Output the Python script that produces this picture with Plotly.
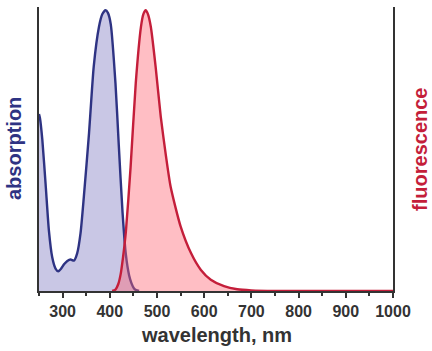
import plotly.graph_objects as go

abs_wl = [250, 252, 257, 264, 271, 278, 285, 291, 297, 303, 310, 317, 324, 331, 338, 345, 356, 366, 377, 384, 391, 396, 402, 412, 419, 427, 434, 441, 446, 451, 456, 462]
abs_val = [0.63, 0.616, 0.54, 0.38, 0.215, 0.12, 0.08, 0.07, 0.08, 0.095, 0.107, 0.112, 0.108, 0.135, 0.206, 0.335, 0.562, 0.80, 0.94, 0.985, 1.0, 0.99, 0.95, 0.74, 0.52, 0.28, 0.13, 0.055, 0.027, 0.01, 0.003, 0.0]

fl_wl = [405, 412, 418, 423, 428, 434, 444, 455, 466, 471, 476, 481, 487, 497, 508, 519, 529, 550, 572, 593, 614, 642, 670, 700, 750, 1000]
fl_val = [0.0, 0.005, 0.025, 0.06, 0.12, 0.21, 0.44, 0.74, 0.94, 0.985, 1.0, 0.985, 0.94, 0.80, 0.62, 0.48, 0.37, 0.23, 0.135, 0.075, 0.04, 0.017, 0.006, 0.002, 0.0, 0.0]

x_ticks = [300, 400, 500, 600, 700, 800, 900, 1000]
x_tick_labels = ["<b>%d</b>" % v for v in x_ticks]

fig = go.Figure()
fig.add_trace(go.Scatter(x=abs_wl, y=abs_val, mode="lines", line=dict(color="#2e3383", width=2.4, shape="spline", smoothing=0.6),
                         fill="tozeroy", fillcolor="rgba(120,115,190,0.4)", showlegend=False))
fig.add_trace(go.Scatter(x=fl_wl, y=fl_val, mode="lines", line=dict(color="#c41e3a", width=2.4, shape="spline", smoothing=0.6),
                         fill="tozeroy", fillcolor="rgba(255,100,115,0.42)", showlegend=False))

axcol = "#333333"
fig.update_layout(
    width=432, height=351,
    margin=dict(l=39, r=39, t=7, b=60),
    paper_bgcolor="white", plot_bgcolor="white",
    font=dict(family="Liberation Sans, Arial, sans-serif"),
    xaxis=dict(range=[250, 1000], tickvals=x_ticks, ticktext=x_tick_labels, ticks="outside", ticklen=5, tickwidth=1.5, tickcolor=axcol,
               showline=True, linecolor=axcol, linewidth=1.5, showgrid=False, zeroline=False,
               tickfont=dict(size=16, color=axcol, family="Liberation Sans, Arial, sans-serif"),
               minor=dict(tickvals=[250, 350, 450, 550, 650, 750, 850, 950], ticks="outside", ticklen=3, tickwidth=1.5, tickcolor=axcol)),
    yaxis=dict(range=[0, 1.011], showticklabels=False, ticks="", showline=True, linecolor=axcol, linewidth=1.5,
               showgrid=False, zeroline=False, mirror=True),
    annotations=[
        dict(text="<b>wavelength, nm</b>", xref="paper", yref="paper", x=0.5, y=-0.155, showarrow=False,
             xanchor="center", yanchor="middle", font=dict(size=20, color=axcol)),
        dict(text="<b>absorption</b>", xref="paper", yref="paper", x=-0.0706, y=0.5, showarrow=False, textangle=-90,
             xanchor="center", yanchor="middle", font=dict(size=20, color="#2e3383")),
        dict(text="<b>fluorescence</b>", xref="paper", yref="paper", x=1.076, y=0.5, showarrow=False, textangle=-90,
             xanchor="center", yanchor="middle", font=dict(size=20, color="#c41e3a")),
    ],
)
fig.write_html("out.html")
